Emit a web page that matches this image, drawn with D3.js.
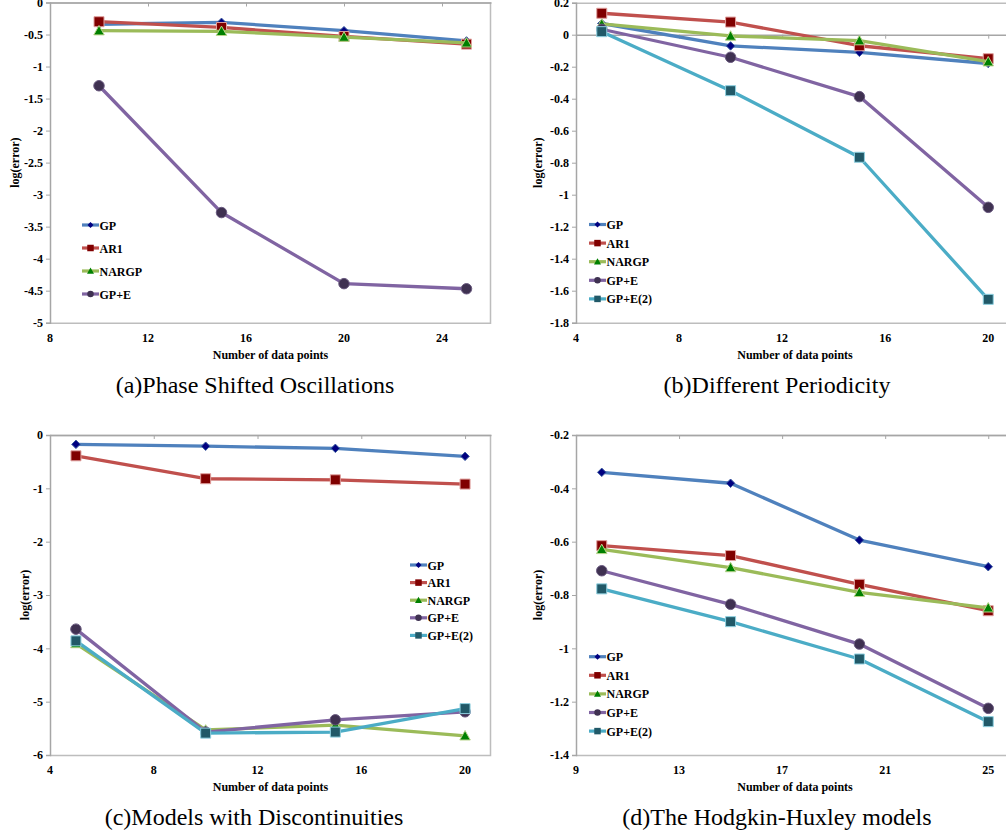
<!DOCTYPE html>
<html>
<head>
<meta charset="utf-8">
<script src="https://cdn.jsdelivr.net/npm/d3@7"></script>
<style>
  html, body { margin: 0; padding: 0; background: #fff; }
  svg { display: block; }
</style>
</head>
<body>
<svg id="chart" width="1006" height="836"></svg>
<script>
// ---------------- DATA ----------------
const seriesNames = ["GP", "AR1", "NARGP", "GP+E", "GP+E(2)"];

// (a) Phase Shifted Oscillations
const xA = [10, 15, 20, 25];
const gpA    = [-0.34, -0.31, -0.44, -0.60];
const ar1A   = [-0.30, -0.39, -0.53, -0.65];
const nargpA = [-0.44, -0.45, -0.54, -0.63];
const gpeA   = [-1.30, -3.28, -4.39, -4.47];
const xTicksA = [8, 12, 16, 20, 24];
const yTicksA = [0, -0.5, -1, -1.5, -2, -2.5, -3, -3.5, -4, -4.5, -5];

// (b) Different Periodicity
const xB = [5, 10, 15, 20];
const gpB    = [0.07, -0.07, -0.11, -0.18];
const ar1B   = [0.134, 0.079, -0.069, -0.15];
const nargpB = [0.067, -0.008, -0.037, -0.169];
const gpeB   = [0.034, -0.141, -0.387, -1.079];
const gpe2B  = [0.019, -0.35, -0.766, -1.654];
const xTicksB = [4, 8, 12, 16, 20];
const yTicksB = [0.2, 0, -0.2, -0.4, -0.6, -0.8, -1, -1.2, -1.4, -1.6, -1.8];

// (c) Models with Discontinuities
const xC = [5, 10, 15, 20];
const gpC    = [-0.175, -0.21, -0.25, -0.40];
const ar1C   = [-0.39, -0.82, -0.84, -0.92];
const nargpC = [-3.91, -5.53, -5.44, -5.64];
const gpeC   = [-3.64, -5.57, -5.34, -5.19];
const gpe2C  = [-3.86, -5.59, -5.57, -5.13];
const xTicksC = [4, 8, 12, 16, 20];
const yTicksC = [0, -1, -2, -3, -4, -5, -6];

// (d) The Hodgkin-Huxley models
const xD = [10, 15, 20, 25];
const gpD    = [-0.34, -0.381, -0.594, -0.694];
const ar1D   = [-0.615, -0.652, -0.76, -0.859];
const nargpD = [-0.629, -0.697, -0.79, -0.848];
const gpeD   = [-0.709, -0.835, -0.984, -1.225];
const gpe2D  = [-0.777, -0.90, -1.04, -1.275];
const xTicksD = [9, 13, 17, 21, 25];
const yTicksD = [-0.2, -0.4, -0.6, -0.8, -1, -1.2, -1.4];

const captions = ["(a)Phase Shifted Oscillations", "(b)Different Periodicity",
                  "(c)Models with Discontinuities", "(d)The Hodgkin-Huxley models"];
const xTitle = "Number of data points";
const yTitle = "log(error)";

// ---------------- STYLES ----------------
const SERIF = "'Liberation Serif', 'Times New Roman', Times, serif";
const styles = {
  "GP":      { line: "#4F81BD", fill: "#000080", stroke: "#3a5ba0", shape: "diamond", size: 8.5, lsize: 6 },
  "AR1":     { line: "#C0504D", fill: "#800000", stroke: "#e0a09e", shape: "square",  size: 10, lsize: 6.5 },
  "NARGP":   { line: "#9BBB59", fill: "#008000", stroke: "#b8d48a", shape: "triangle",size: 10.5, lsize: 7 },
  "GP+E":    { line: "#8064A2", fill: "#3f3151", stroke: "#6a5a80", shape: "circle",  size: 10.5, lsize: 6.5 },
  "GP+E(2)": { line: "#4BACC6", fill: "#215968", stroke: "#8fd0e0", shape: "square",  size: 10, lsize: 6.5 }
};

const svg = d3.select("#chart");

function symbolPath(shape, s) {
  const h = s / 2;
  if (shape === "square") return `M${-h},${-h}H${h}V${h}H${-h}Z`;
  if (shape === "diamond") return `M0,${-h}L${h},0L0,${h}L${-h},0Z`;
  if (shape === "triangle") return `M0,${-h}L${h},${h * 0.8}L${-h},${h * 0.8}Z`;
  return d3.arc()({ innerRadius: 0, outerRadius: h, startAngle: 0, endAngle: 2 * Math.PI });
}

function boldText(sel) {
  return sel.attr("font-family", SERIF).attr("font-weight", "bold").attr("font-size", 12).attr("fill", "#000");
}

function panel(cfg) {
  const g = svg.append("g");
  const x = d3.scaleLinear().domain(cfg.xDomain).range([cfg.x0, cfg.x1]);
  const y = d3.scaleLinear().domain(cfg.yDomain).range([cfg.y1, cfg.y0]);
  const frame = "#a6a6a6";

  // plot frame (top, right, bottom)
  g.append("path")
    .attr("d", `M${cfg.x0},${cfg.y0 + 0.5}H${cfg.x1 - 0.5}V${cfg.y1 + 0.5}H${cfg.x0}`)
    .attr("fill", "none").attr("stroke", "#bdbdbd").attr("stroke-width", 1.5);

  // y axis line with ticks
  const yAxis = d3.axisLeft(y).tickValues(cfg.yTicks).tickSize(4).tickFormat("");
  const ya = g.append("g").attr("transform", `translate(${cfg.x0},0)`).call(yAxis);
  ya.selectAll("path.domain").attr("stroke", frame).attr("stroke-width", 1.5);
  ya.selectAll(".tick line").attr("stroke", frame);
  boldText(g.selectAll(".ylab").data(cfg.yTicks).enter().append("text"))
    .attr("x", cfg.x0 - 7).attr("y", d => y(d)).attr("dy", "0.35em")
    .attr("text-anchor", "end").text(d => String(d));

  // horizontal axis line at axisAt, ticks pointing down
  const xAxis = d3.axisBottom(x).tickValues(cfg.xTicks).tickSize(4).tickSizeOuter(0).tickFormat("");
  const xa = g.append("g").attr("transform", `translate(0,${y(cfg.axisAt)})`).call(xAxis);
  xa.selectAll("path.domain").attr("stroke", frame).attr("stroke-width", 1.5);
  xa.selectAll(".tick line").attr("stroke", frame);
  boldText(g.selectAll(".xlab").data(cfg.xTicks).enter().append("text"))
    .attr("x", d => x(d)).attr("y", cfg.y1 + 19)
    .attr("text-anchor", "middle").text(d => d);

  // titles
  boldText(g.append("text"))
    .attr("x", (cfg.x0 + cfg.x1) / 2).attr("y", cfg.y1 + 36)
    .attr("text-anchor", "middle").text(xTitle);
  boldText(g.append("text"))
    .attr("transform", `translate(${cfg.yTitleX},${(cfg.y0 + cfg.y1) / 2}) rotate(-90)`)
    .attr("text-anchor", "middle").text(yTitle);

  // series
  const line = d3.line().x(d => x(d[0])).y(d => y(d[1]));
  cfg.series.forEach((vals, i) => {
    const st = styles[seriesNames[i]];
    const pts = cfg.xs.map((xv, j) => [xv, vals[j]]);
    g.append("path").datum(pts).attr("d", line)
      .attr("fill", "none").attr("stroke", st.line).attr("stroke-width", 3.3)
      .attr("stroke-linejoin", "round");
    g.selectAll(null).data(pts).enter().append("path")
      .attr("transform", d => `translate(${x(d[0])},${y(d[1])})`)
      .attr("d", symbolPath(st.shape, st.size))
      .attr("fill", st.fill).attr("stroke", st.stroke).attr("stroke-width", 1);
  });

  // legend
  cfg.series.forEach((vals, i) => {
    const st = styles[seriesNames[i]];
    const ly = cfg.legY + i * cfg.legStep;
    const lx = cfg.legX;
    g.append("line").attr("x1", lx).attr("x2", lx + 17).attr("y1", ly).attr("y2", ly)
      .attr("stroke", st.line).attr("stroke-width", 3.2);
    g.append("path").attr("transform", `translate(${lx + 8.5},${ly})`)
      .attr("d", symbolPath(st.shape, st.lsize)).attr("fill", st.fill);
    boldText(g.append("text"))
      .attr("x", lx + 17.5).attr("y", ly).attr("dy", "0.38em").text(seriesNames[i]);
  });

  // caption
  g.append("text")
    .attr("font-family", SERIF).attr("font-size", 24).attr("fill", "#000")
    .attr("x", cfg.capX).attr("y", cfg.capY)
    .attr("text-anchor", "middle").text(cfg.caption);
}

panel({ x0: 50, x1: 491, y0: 2.5, y1: 322.7, xDomain: [8, 26], yDomain: [-5, 0], axisAt: 0,
  xTicks: xTicksA, yTicks: yTicksA, xs: xA, series: [gpA, ar1A, nargpA, gpeA],
  yTitleX: 19, legX: 82, legY: 225, legStep: 23, caption: captions[0], capX: 255, capY: 393 });

panel({ x0: 576, x1: 1014, y0: 2.7, y1: 322.7, xDomain: [4, 21], yDomain: [-1.8, 0.2], axisAt: 0,
  xTicks: xTicksB, yTicks: yTicksB, xs: xB, series: [gpB, ar1B, nargpB, gpeB, gpe2B],
  yTitleX: 542, legX: 589, legY: 224.5, legStep: 18.6, caption: captions[1], capX: 777, capY: 393 });

panel({ x0: 50, x1: 491, y0: 435, y1: 755, xDomain: [4, 21], yDomain: [-6, 0], axisAt: 0,
  xTicks: xTicksC, yTicks: yTicksC, xs: xC, series: [gpC, ar1C, nargpC, gpeC, gpe2C],
  yTitleX: 29, legX: 410, legY: 565, legStep: 17.6, caption: captions[2], capX: 254, capY: 825 });

panel({ x0: 576, x1: 1014, y0: 435, y1: 755, xDomain: [9, 26], yDomain: [-1.4, -0.2], axisAt: -0.2,
  xTicks: xTicksD, yTicks: yTicksD, xs: xD, series: [gpD, ar1D, nargpD, gpeD, gpe2D],
  yTitleX: 542, legX: 589, legY: 656.7, legStep: 18.6, caption: captions[3], capX: 777, capY: 825 });
</script>
</body>
</html>
